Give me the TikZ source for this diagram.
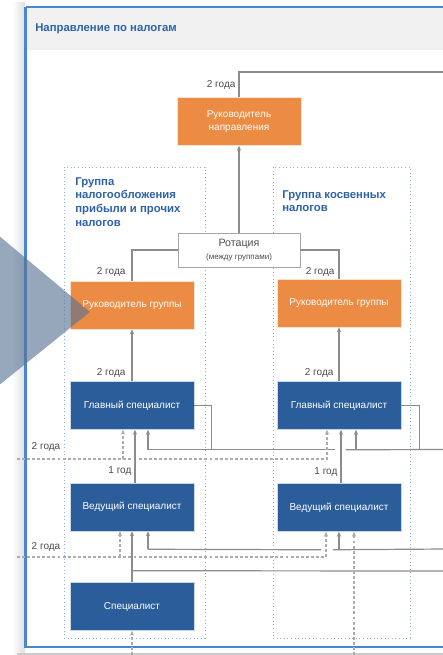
\documentclass[tikz,border=0pt]{standalone}
\usepackage{fontspec}
\setmainfont{Liberation Sans}
\usetikzlibrary{positioning,arrows.meta,calc}
\definecolor{HeadOrange}{RGB}{236,140,68}
\definecolor{StaffBlue}{RGB}{43,93,155}
\definecolor{TitleBlue}{RGB}{46,99,168}
\definecolor{FrameBlue}{RGB}{74,134,208}
\definecolor{GroupLine}{RGB}{141,176,220}
\definecolor{LineGray}{RGB}{140,140,140}
\definecolor{PanelGray}{RGB}{241,241,241}
\definecolor{ArrowSlate}{RGB}{86,114,146}

\begin{document}
\begin{tikzpicture}[x=0.75pt, y=-0.75pt,
    orbox/.style={rectangle, fill=HeadOrange, draw=white!75!HeadOrange, text=white,
                  minimum width=93pt, minimum height=36pt, align=center, inner sep=1pt,
                  font=\fontsize{7.5}{9.5}\selectfont},
    blbox/.style={orbox, fill=StaffBlue, draw=white!75!StaffBlue},
    rotbox/.style={rectangle, draw=gray!70, fill=white, minimum width=91.5pt,
                   minimum height=25.5pt, align=center, inner sep=1pt, text=black!70},
    grp/.style={draw=GroupLine, dotted, line width=0.7pt, inner sep=0pt},
    gtitle/.style={anchor=north west, align=left, text=TitleBlue, inner sep=0pt,
                   font=\bfseries\fontsize{8.5}{10.3}\selectfont},
    yrs/.style={text=black!70, inner sep=1pt, font=\fontsize{7.5}{9}\selectfont},
    ln/.style={draw=LineGray, line width=0.9pt},
    ar/.style={ln, -{Stealth[length=1.3mm,width=1.1mm]}},
    dar/.style={draw=gray!65, line width=0.9pt, dash pattern=on 2.2pt off 1.6pt,
                -{Stealth[length=1.3mm,width=1.1mm]}}
]
    \useasboundingbox (0,0) rectangle (442,655);
    \shade[left color=white, right color=gray!25] (12,3) rectangle (25,654);
    \draw[gray!40, line width=0.8pt] (17,654) -- (450,654);
    \fill[white] (25,7) rectangle (450,647);
    \fill[PanelGray] (26,8) rectangle (450,50);
    \draw[FrameBlue, line width=0.8pt] (450,7) -- (25.5,7);
    \draw[FrameBlue, line width=2pt] (25.5,7) -- (25.5,647) -- (450,647);
    \node[anchor=west, inner sep=0pt, text=TitleBlue, font=\bfseries\fontsize{8.5}{10}\selectfont]
        (title) at (35,29) {Направление по налогам};

    \node[grp, minimum width=105.75pt, minimum height=353.25pt] (lgrp) at (134.5,402.5) {};
    \node[grp, minimum width=102.75pt, minimum height=353.25pt] (rgrp) at (341.5,402.5) {};
    \node[gtitle] (lgtitle) at (75,177) {Группа\\налогообложения\\прибыли и прочих\\налогов};
    \node[gtitle] (rgtitle) at (282,190) {Группа косвенных\\налогов};

    \node[orbox] (dirhead) at (239,121.5) {Руководитель\\направления};
    \node[rotbox] (rot) at (239,250) {\fontsize{8}{9}\selectfont Ротация\\[-2pt]
        {\fontsize{6}{7}\selectfont (между группами)}};
    \node[orbox] (lhead) at (132,305) {Руководитель группы};
    \node[orbox] (rhead) at (339,303) {Руководитель группы};
    \node[blbox] (lmain) at (132,405.5) {Главный специалист};
    \node[blbox] (rmain) at (339,405.5) {Главный специалист};
    \node[blbox] (lsen) at (132,507) {Ведущий специалист};
    \node[blbox] (rsen) at (339,507.5) {Ведущий специалист};
    \node[blbox] (lspec) at (132,606.5) {Специалист};

    \node[yrs, anchor=east] (ytop) at (237,85) {2 года};
    \node[yrs, anchor=east] (ylhead) at (127,272) {2 года};
    \node[yrs, anchor=east] (yrhead) at (336,272) {2 года};
    \node[yrs, anchor=east] (ylmain) at (127,373) {2 года};
    \node[yrs, anchor=east] (yrmain) at (335,373) {2 года};
    \node[yrs, anchor=east] (ylsen) at (133,471) {1 год};
    \node[yrs, anchor=east] (yrsen) at (339,472) {1 год};
    \node[yrs] (yext1) at (46,447) {2 года};
    \node[yrs] (yext2) at (46,547) {2 года};

    \coordinate (topexit) at (445,72);
    \coordinate (mexit) at (445,449.5);
    \coordinate (sexit) at (445,549);
    \coordinate (spexit) at (445,571);
    \coordinate (ext1) at (17,459);
    \coordinate (ext2) at (17,557);
    \coordinate (lspecin) at (132,660);
    \coordinate (rsenin) at (354,660);

    \draw[ln, line width=1.2pt] (dirhead.north) |- (topexit);
    \draw[ar] (rot.north) -- (dirhead.south);
    \draw[ln] (rot.west) -| (lhead.north);
    \draw[ln] (rot.east) -| (rhead.north);
    \draw[ar] (lmain.north) -- (lhead.south);
    \draw[ar] (rmain.north) -- (rhead.south);

    \draw[ln] (lmain.east) -- ++(17,0) -- ++(0,44);
    \draw[ln] (rmain.east) -- ++(18,0) -- ++(0,44);
    \draw[ar] ($(lmain.south)+(16,20)$) -- ($(lmain.south)+(16,0)$);
    \draw[ln] ($(lmain.south)+(16,20)$) -- ($(rmain.south)+(-4,20)$);
    \draw[ln] ($(rmain.south)+(7,20)$) -- (mexit);
    \draw[ar] ($(rmain.south)+(17,20)$) -- ($(rmain.south)+(17,0)$);
    \draw[dar] (ext1) -| ($(rmain.south)+(-12,0)$);
    \draw[dar] ($(lmain.south)+(-9,29.5)$) -- ($(lmain.south)+(-9,0)$);
    \draw[ar] ($(lsen.north)+(3,0)$) -- ($(lmain.south)+(3,0)$);
    \draw[ar] ($(rsen.north)+(2,0)$) -- ($(rmain.south)+(2,0)$);

    \draw[ar] ($(lsen.south)+(16,18)$) -- ($(lsen.south)+(16,0)$);
    \draw[ln] ($(lsen.south)+(16,18)$) -- ($(rsen.south)+(-18,18)$);
    \draw[ln] ($(rsen.south)+(-6,18)$) -- (sexit);
    \draw[ar] ($(rsen.south)+(0,18)$) -- (rsen.south);
    \draw[dar] (ext2) -| ($(rsen.south)+(-13,0)$);
    \draw[dar] ($(lsen.south)+(-12,26)$) -- ($(lsen.south)+(-12,0)$);

    \draw[ar] (lspec.north) -- (lsen.south);
    \draw[ln] ($(lspec.north)+(0,-11.5)$) -- (spexit);
    \draw[dar] (lspecin) -- (lspec.south);
    \draw[dar] (rsenin) -- ($(rsen.south)+(15,0)$);

    \fill[ArrowSlate, opacity=0.62] (-2,235) -- (90,312) -- (-2,386) -- cycle;
\end{tikzpicture}
\end{document}
